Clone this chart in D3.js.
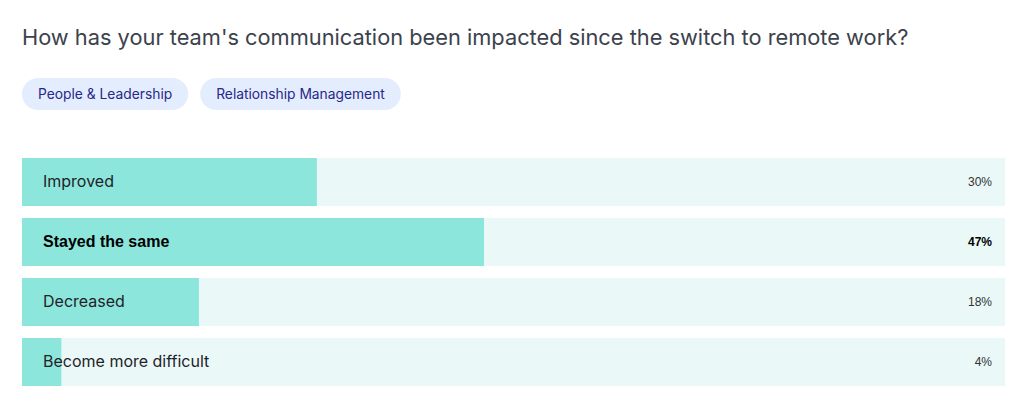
<!DOCTYPE html>
<html>
<head>
<meta charset="utf-8">
<script src="https://cdn.jsdelivr.net/npm/d3@7"></script>
<style>
  body { margin: 0; background: #fff; }
  svg { display: block; }
</style>
</head>
<body>
<svg id="chart"></svg>
<script>
// data
const title = "How has your team's communication been impacted since the switch to remote work?";
const tags = ["People & Leadership", "Relationship Management"];
const answers = ["Improved", "Stayed the same", "Decreased", "Become more difficult"];
const percents = [30, 47, 18, 4];
const topAnswer = "Stayed the same";

document.addEventListener('DOMContentLoaded', () => {
    const width = 1023, height = 394;
    const font = "Inter, 'Noto Sans', sans-serif";

    const svg = d3.select("#chart")
        .attr("width", width)
        .attr("height", height);

    // title
    svg.append("text")
        .attr("x", 22)
        .attr("y", 45)
        .attr("font-family", font)
        .attr("font-size", 21.8)
        .attr("fill", "#3c424c")
        .text(title);

    // tag pills
    let px = 22;
    tags.forEach(function(t) {
        const g = svg.append("g");
        const label = g.append("text")
            .attr("y", 99)
            .attr("font-family", font)
            .attr("font-size", 13.8)
            .attr("fill", "#27288a")
            .text(t);
        const w = label.node().getComputedTextLength() + 32;
        g.insert("rect", "text")
            .attr("x", px)
            .attr("y", 78)
            .attr("width", w)
            .attr("height", 32)
            .attr("rx", 16)
            .attr("fill", "#e3edfd");
        label.attr("x", px + 16);
        px += w + 12;
    });

    // bars
    const x = d3.scaleLinear().domain([0, 100]).range([22, 1005]);
    const y = d3.scaleBand().domain(answers).range([158, 386]).paddingInner(0.2).paddingOuter(0);

    const rows = svg.selectAll("g.row")
        .data(answers)
        .join("g")
        .attr("class", "row");

    rows.append("rect")
        .attr("x", x(0))
        .attr("y", d => y(d))
        .attr("width", x(100) - x(0))
        .attr("height", y.bandwidth())
        .attr("fill", "#eaf8f8");

    rows.append("rect")
        .attr("x", x(0))
        .attr("y", d => y(d))
        .attr("width", (d, i) => x(percents[i]) - x(0))
        .attr("height", y.bandwidth())
        .attr("fill", "#8de6dc");

    rows.append("text")
        .attr("x", 43)
        .attr("y", d => y(d) + 29)
        .attr("font-family", d => d === topAnswer ? "Arial, 'Liberation Sans', sans-serif" : font)
        .attr("font-weight", d => d === topAnswer ? "bold" : "normal")
        .attr("font-size", 16)
        .attr("fill", d => d === topAnswer ? "#000" : "#1f2328")
        .text(d => d);

    rows.append("text")
        .attr("x", 992)
        .attr("y", d => y(d) + 28)
        .attr("text-anchor", "end")
        .attr("font-family", "Arial, 'Liberation Sans', sans-serif")
        .attr("font-weight", d => d === topAnswer ? "bold" : "normal")
        .attr("font-size", 12)
        .attr("fill", d => d === topAnswer ? "#000" : "#333")
        .text((d, i) => percents[i] + "%");
});
</script>
</body>
</html>
